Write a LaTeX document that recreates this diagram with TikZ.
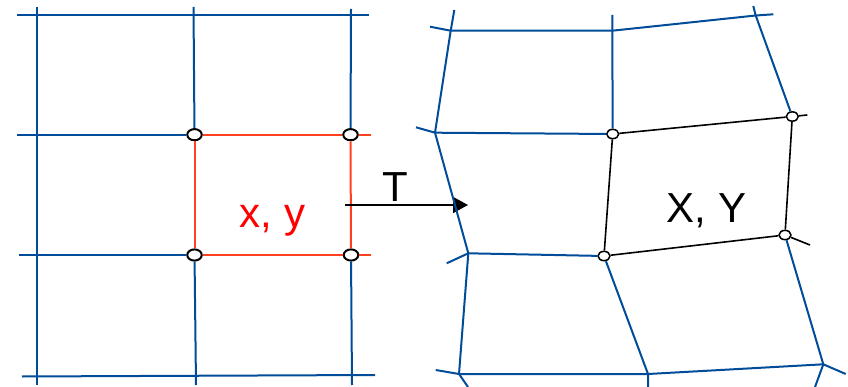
\documentclass[tikz,border=0pt]{standalone}
\usepackage{fontspec}
\setmainfont{Liberation Sans}
\usetikzlibrary{arrows.meta,shapes.geometric}
\definecolor{gridblue}{RGB}{0,76,153}
\definecolor{cellred}{RGB}{255,64,32}

\begin{document}
\begin{tikzpicture}[x=1pt,y=-1pt,>={Triangle[length=15pt,width=16pt]}]
\tikzset{mesh/.style={draw=gridblue,line width=2pt,line join=round}, cell/.style={draw=cellred,line width=2pt},
  warp/.style={draw=black,line width=1.6pt,line join=round},
  knot/.style={ellipse,draw=black,fill=white,line width=2pt,inner sep=0pt,minimum width=14.5pt,minimum height=11.2pt},
  tknot/.style={knot,line width=1.5pt,minimum width=12pt,minimum height=9.3pt},
  lab/.style={font=\fontsize{42}{50}\selectfont,anchor=base,inner sep=0pt}}
\useasboundingbox (0,0) rectangle (848,387);
\begin{scope}
  \foreach \n/\x/\y in {sh0w/17/14.7, sh0e/369/14.7, sh1w/17/134.7, sh1e/371/134.7, sh2w/19/255, sh2e/371/255,
      sh3w/22/376.5, sh3e/375/375, sv0n/37.3/7, sv0s/37.3/385, sv1n/193.5/7, sv1s/196/385, sv2n/351/9, sv2s/352/385}
    \coordinate (\n) at (\x,\y);
  \node[knot] (src-nw) at (194.5,134.7) {};
  \node[knot] (src-ne) at (350.5,134.7) {};
  \node[knot] (src-sw) at (194.5,255) {};
  \node[knot] (src-se) at (351,255) {};
  \draw[mesh] (sh0w) -- (sh0e);
  \draw[mesh] (sh3w) -- (sh3e);
  \draw[mesh] (sv0n) -- (sv0s);
  \draw[mesh] (sh1w) -- (src-nw);
  \draw[mesh] (sh2w) -- (src-sw);
  \draw[mesh] (sv1n) -- (src-nw);
  \draw[mesh] (src-sw) -- (sv1s);
  \draw[mesh] (sv2n) -- (src-ne);
  \draw[mesh] (src-se) -- (sv2s);
  \draw[cell] (src-nw) -- (src-ne) -- (sh1e);
  \draw[cell] (src-sw) -- (src-se) -- (sh2e);
  \draw[cell] (src-nw) -- (src-sw);
  \draw[cell] (src-ne) -- (src-se);
  \node[lab,text=red] (xy) at (272.5,228) {x, y};
\end{scope}
\coordinate (tin) at (345,205);
\coordinate (tout) at (468,205);
\draw[->,line width=1.5pt] (tin) -- (tout);
\node[lab] (tname) at (395,201.7) {T};
\begin{scope}
  \foreach \n/\x/\y in {tl0/450.7/30.7, tm0/612.3/30.7, tr0/755.7/15.5, tl1/435/132.7, tl2/468.3/253.3,
      tl3/459/374, tm3/648/374, tr3/823.3/364.3, tl0w/430/26.7, tl0n/454.3/10, tm0n/612.3/15, tr0n/753.3/6,
      tr0e/773.3/14.3, tl1w/416/127.3, tl2w/446.7/263.3, tl3w/435.7/370, tl3s/468/387, tm3s/648/387,
      tr3e/845.7/374, tr3s/815/387, tr1e/807.3/115, tr2e/810/245}
    \coordinate (\n) at (\x,\y);
  \node[tknot] (tgt-nw) at (612.7,134) {};
  \node[tknot] (tgt-ne) at (792.3,116.5) {};
  \node[tknot] (tgt-sw) at (604,256) {};
  \node[tknot] (tgt-se) at (785,235) {};
  \draw[mesh] (tl0n) -- (tl0) -- (tl1) -- (tl2) -- (tl3) -- (tl3s);
  \draw[mesh] (tl0w) -- (tl0) -- (tm0) -- (tr0) -- (tr0e);
  \draw[mesh] (tm0n) -- (tm0) -- (tgt-nw);
  \draw[mesh] (tr0n) -- (tr0) -- (tgt-ne);
  \draw[mesh] (tl1w) -- (tl1) -- (tgt-nw);
  \draw[mesh] (tl2w) -- (tl2) -- (tgt-sw);
  \draw[mesh] (tl3w) -- (tl3) -- (tm3) -- (tr3) -- (tr3e);
  \draw[mesh] (tgt-sw) -- (tm3) -- (tm3s);
  \draw[mesh] (tgt-se) -- (tr3) -- (tr3s);
  \draw[warp] (tgt-nw) -- (tgt-ne) -- (tr1e);
  \draw[warp] (tgt-sw) -- (tgt-se) -- (tr2e);
  \draw[warp] (tgt-nw) -- (tgt-sw);
  \draw[warp] (tgt-ne) -- (tgt-se);
  \node[lab] (XY) at (706.5,222.7) {X, Y};
\end{scope}
\end{tikzpicture}
\end{document}
